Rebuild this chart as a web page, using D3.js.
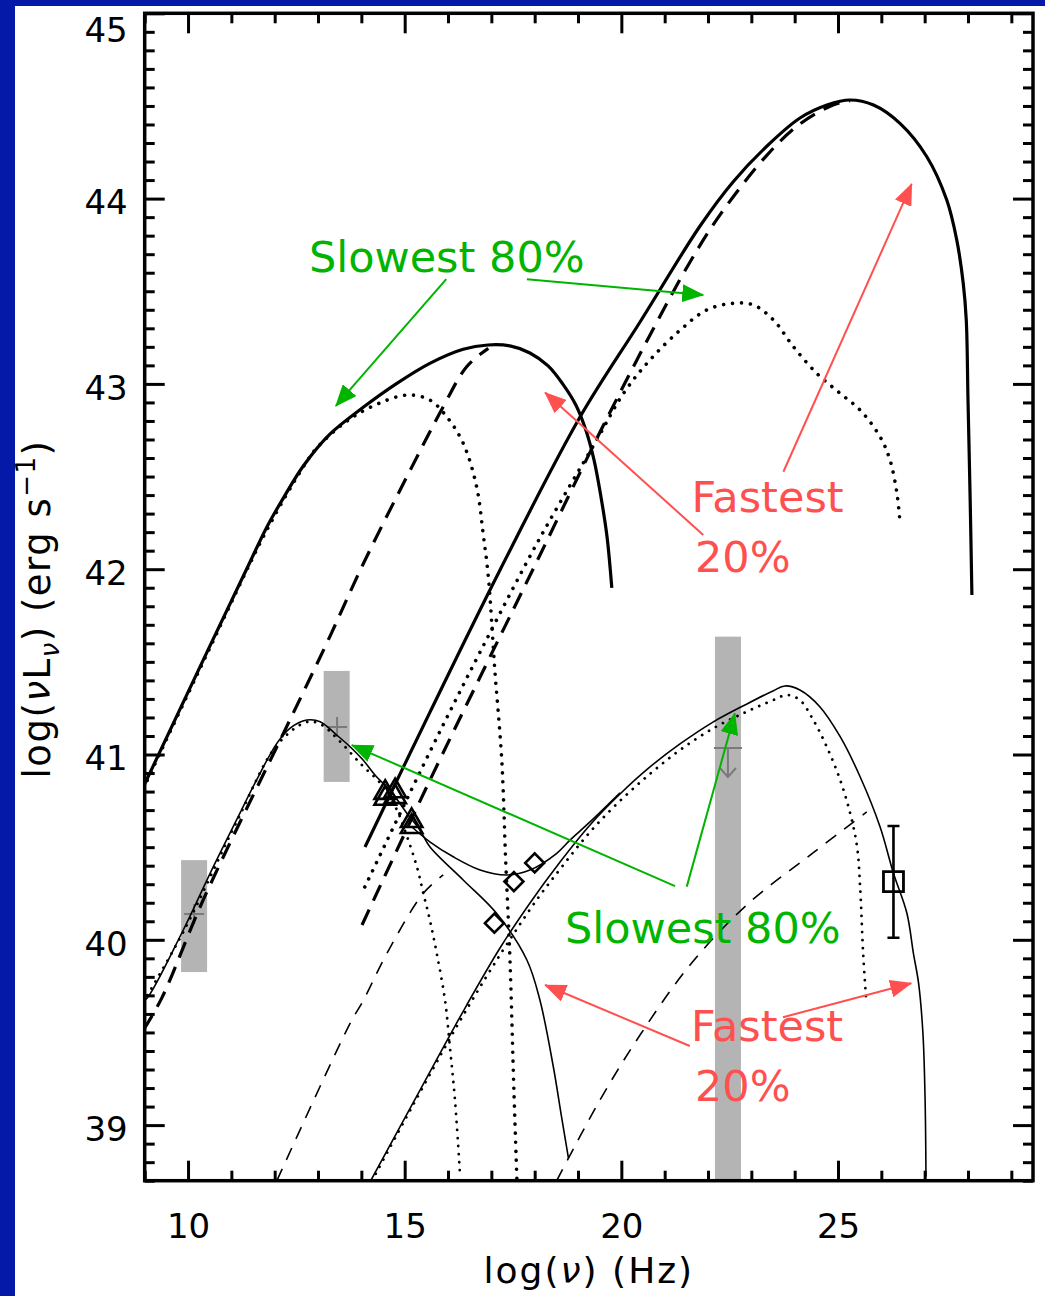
<!DOCTYPE html>
<html><head><meta charset="utf-8">
<script src="https://cdn.jsdelivr.net/npm/d3@7"></script>
<style>html,body{margin:0;padding:0;background:#0519a9;}svg{display:block}</style>
</head><body>
<svg id="c" width="1045" height="1296"></svg>
<script>
// ---------------- data ----------------
const xMajorTicks = [10, 15, 20, 25];
const yMajorTicks = [39, 40, 41, 42, 43, 44, 45];

// Upper model (thick lines)
const upperSyncTotal = [[8.97,40.826],[10.47,41.569],[11.43,42.039],[11.82,42.228],[12.24,42.400],[12.66,42.557],[13.28,42.730],[14.05,42.875],[14.82,43.003],[15.58,43.111],[16.35,43.187],[16.92,43.210],[17.43,43.205],[17.89,43.167],[18.31,43.097],[18.65,42.999],[18.95,42.886],[19.18,42.751],[19.37,42.589],[19.53,42.390],[19.67,42.174],[19.78,41.899]];
const upperSyncSlow = [[8.97,40.817],[10.47,41.559],[11.82,42.212],[12.66,42.552],[12.97,42.654],[13.58,42.784],[14.20,42.873],[15.05,42.940],[15.58,42.913],[15.97,42.823],[16.35,42.680],[16.66,42.445],[16.81,42.194],[16.93,41.960],[17.08,41.456],[17.24,40.970],[17.33,40.431],[17.43,39.891],[17.52,39.189],[17.59,38.704]];
const upperSyncFast = [[8.97,39.513],[9.39,39.684],[10.35,40.215],[12.35,41.186],[13.20,41.600],[14.05,42.032],[15.05,42.499],[15.89,42.877],[16.43,43.093],[16.93,43.192]];
const upperICTotal = [[14.084,40.501],[15.584,41.229],[17.200,41.996],[19.046,42.821],[20.431,43.334],[21.816,43.852],[22.577,44.090],[23.362,44.284],[24.123,44.435],[24.746,44.505],[25.277,44.532],[25.82,44.505],[26.43,44.406],[27.05,44.226],[27.51,43.992],[27.74,43.777],[27.89,43.543],[27.96,43.345],[28.00,42.913],[28.05,42.374],[28.09,41.861]];
const upperICFast = [[14.015,40.080],[15.584,40.862],[18.123,42.077],[19.508,42.740],[20.662,43.264],[21.585,43.658],[22.277,43.912],[23.362,44.235],[24.123,44.403],[24.885,44.505],[25.277,44.527]];
const upperICSlow = [[14.08,40.285],[15.58,41.014],[16.74,41.553],[18.12,42.168],[19.43,42.697],[20.05,42.949],[20.66,43.129],[21.36,43.291],[21.97,43.399],[22.58,43.435],[23.05,43.426],[23.51,43.345],[23.97,43.201],[24.51,43.057],[25.05,42.949],[25.51,42.859],[25.97,42.715],[26.20,42.589],[26.36,42.410],[26.42,42.283]];

// Lower model (thin lines)
const lowerSyncTotal = [[8.97,39.675],[9.05,39.684],[9.89,40.053],[10.51,40.359],[11.12,40.647],[11.58,40.862],[12.05,41.060],[12.35,41.141],[12.74,41.186],[13.05,41.177],[13.43,41.105],[13.74,41.042],[14.04,40.970],[14.35,40.880],[14.66,40.808],[15.05,40.683],[15.35,40.593],[15.58,40.502],[16.35,40.323],[17.12,40.143],[17.82,39.891],[18.12,39.675],[18.43,39.315],[18.62,39.045],[18.78,38.821]];
const lowerSum = [[15.16,40.610],[15.58,40.529],[16.12,40.448],[16.74,40.377],[17.35,40.350],[17.89,40.377],[18.51,40.467],[18.82,40.539],[19.277,40.636],[19.969,40.793]];
const lowerSyncSlow = [[8.97,39.664],[9.89,40.042],[11.12,40.636],[12.05,41.050],[12.74,41.175],[13.05,41.164],[13.43,41.089],[13.97,40.953],[14.51,40.826],[14.82,40.701],[15.05,40.560],[15.28,40.395],[15.43,40.251],[15.58,40.107],[15.74,39.927],[15.93,39.675],[16.05,39.405],[16.16,39.136],[16.28,38.722]];
const lowerSyncFast = [[12.05,38.700],[13.74,39.549],[14.05,39.675],[14.59,39.927],[15.43,40.251],[15.89,40.350]];
const lowerICTotal = [[14.216,38.700],[15.354,39.189],[16.431,39.648],[17.200,39.956],[17.892,40.199],[18.585,40.420],[19.277,40.620],[19.969,40.787],[20.661,40.933],[21.353,41.057],[22.115,41.175],[22.899,41.273],[23.499,41.343],[23.776,41.370],[24.12,41.348],[24.58,41.258],[25.05,41.096],[25.51,40.880],[25.97,40.610],[26.28,40.359],[26.59,40.143],[26.74,39.927],[26.86,39.765],[26.96,39.495],[27.01,39.136],[27.03,38.722]];
const lowerICSlow = [[14.246,38.700],[16.461,39.637],[17.915,40.172],[18.608,40.388],[19.300,40.588],[19.992,40.755],[20.684,40.900],[21.353,41.024],[22.12,41.141],[22.89,41.231],[23.51,41.294],[23.82,41.321],[24.12,41.294],[24.43,41.186],[24.74,41.042],[25.05,40.862],[25.28,40.683],[25.44,40.502],[25.51,40.287],[25.58,39.927],[25.65,39.675]];
const lowerICFast = [[18.508,38.700],[19.508,39.136],[20.431,39.486],[21.585,39.864],[22.893,40.188],[24.423,40.469],[25.663,40.690]];

// Observational data
const grayBars = [{x:10.14, lo:39.826, hi:40.430}, {x:13.43, lo:40.852, hi:41.451}, {x:22.46, lo:38.700, hi:41.636}];
const grayPlus = [[10.14,40.139],[13.44,41.148]];
const grayUpperLimit = [[22.46,41.035]];
const triangles = [[14.55,40.762],[14.55,40.794],[14.78,40.771],[14.78,40.803],[15.16,40.610],[15.16,40.642]];
const diamonds = [[17.07,40.090],[17.52,40.314],[18.00,40.415]];
const squares = [{x:26.28, y:40.314, lo:40.011, hi:40.614}];

// Annotations
const greenArrows = [{from:[15.96,43.565], to:[13.41,42.881]}, {from:[17.82,43.565], to:[21.89,43.480]}, {from:[21.24,40.290], to:[13.78,41.051]}, {from:[21.51,40.287], to:[22.62,41.222]}];
const redArrows = [{from:[23.74,42.526], to:[26.70,44.079]}, {from:[21.89,42.185], to:[18.24,42.953]}, {from:[21.58,39.427], to:[18.24,39.756]}, {from:[23.73,39.582], to:[26.69,39.766]}];
const greenTexts = [{t:"Slowest 80%", x:12.79, y:43.602}, {t:"Slowest 80%", x:18.70, y:39.983}];
const redTexts = [{t:"Fastest", x:21.62, y:42.310}, {t:"20%", x:21.70, y:41.987}, {t:"Fastest", x:21.61, y:39.454}, {t:"20%", x:21.70, y:39.130}];

// ---------------- drawing ----------------
const W = 1045, H = 1296;
const svg = d3.select('#c');
svg.append('rect').attr('width', W).attr('height', H).attr('fill', '#0519a9');
svg.append('rect').attr('x', 15).attr('y', 6).attr('width', W - 15).attr('height', H - 6).attr('fill', '#fff');

const x = d3.scaleLinear().domain([9, 29.5]).range([144.7, 1033]);
const y = d3.scaleLinear().domain([38.7, 45]).range([1180.7, 13.3]);
const [x0, x1] = x.domain(), [y0, y1] = y.domain();

const defs = svg.append('defs');
defs.append('clipPath').attr('id', 'clip').append('rect')
  .attr('x', x(x0)).attr('y', y(y1)).attr('width', x(x1) - x(x0)).attr('height', y(y0) - y(y1));
function mk(id, col) {
  defs.append('marker').attr('id', id).attr('viewBox', '0 0 22 18').attr('refX', 21).attr('refY', 9)
    .attr('markerWidth', 22).attr('markerHeight', 18).attr('markerUnits', 'userSpaceOnUse').attr('orient', 'auto')
    .append('path').attr('d', 'M0,0L22,9L0,18Z').attr('fill', col);
}
const GREEN = '#00b400', RED = '#ff5050';
mk('ag', GREEN); mk('ar', RED);

const plot = svg.append('g').attr('clip-path', 'url(#clip)');

// gray bars
plot.selectAll('rect.gb').data(grayBars).join('rect').attr('class', 'gb')
  .attr('x', d => x(d.x) - 13).attr('width', 26)
  .attr('y', d => y(d.hi)).attr('height', d => y(d.lo) - y(d.hi)).attr('fill', '#b4b4b4');
plot.selectAll('path.gp').data(grayPlus).join('path').attr('class', 'gp')
  .attr('d', d => `M${x(d[0]) - 10},${y(d[1])}h20M${x(d[0])},${y(d[1]) - 10}v20`)
  .attr('stroke', '#7a7a7a').attr('stroke-width', 2).attr('fill', 'none');
plot.selectAll('path.gu').data(grayUpperLimit).join('path').attr('class', 'gu')
  .attr('d', d => { const cx = x(d[0]), cy = y(d[1]); return `M${cx - 14},${cy}h28M${cx},${cy}v29M${cx - 8},${cy + 20}L${cx},${cy + 29}L${cx + 8},${cy + 20}`; })
  .attr('stroke', '#7a7a7a').attr('stroke-width', 2).attr('fill', 'none');

const line = d3.line().x(d => x(d[0])).y(d => y(d[1])).curve(d3.curveCatmullRom.alpha(0.5));
function curve(data, w, dash, cap) {
  plot.append('path').datum(data).attr('d', line).attr('fill', 'none').attr('stroke', '#000')
    .attr('stroke-width', w).attr('stroke-dasharray', dash || null).attr('stroke-linecap', cap || 'butt')
    .attr('stroke-linejoin', 'round');
}
const THICK = 3.2, THIN = 1.6;
const DASH_THICK = '17 10', DASH_THIN = '13 10', DOT_THICK = '0.01 9', DOT_THIN = '0.01 8';

curve(upperSyncTotal, THICK);
curve(upperSyncSlow, 3.6, DOT_THICK, 'round');
curve(upperSyncFast, THICK, DASH_THICK);
curve(upperICTotal, THICK);
curve(upperICFast, THICK, DASH_THICK);
curve(upperICSlow, 3.6, DOT_THICK, 'round');

curve(lowerSyncTotal, THIN);
curve(lowerSum, THIN);
curve(lowerSyncSlow, 2.8, DOT_THIN, 'round');
curve(lowerSyncFast, THIN, DASH_THIN);
curve(lowerICTotal, THIN);
curve(lowerICSlow, 2.8, DOT_THIN, 'round');
curve(lowerICFast, THIN, DASH_THIN);

// data symbols
const tri = d3.symbol().type(d3.symbolTriangle).size(200);
plot.selectAll('path.tri').data(triangles).join('path').attr('class', 'tri')
  .attr('transform', d => `translate(${x(d[0])},${y(d[1])})`).attr('d', tri)
  .attr('fill', 'none').attr('stroke', '#000').attr('stroke-width', 2.6);
const dia = d3.symbol().type(d3.symbolSquare).size(180);
plot.selectAll('path.dia').data(diamonds).join('path').attr('class', 'dia')
  .attr('transform', d => `translate(${x(d[0])},${y(d[1])}) rotate(45)`).attr('d', dia)
  .attr('fill', 'none').attr('stroke', '#000').attr('stroke-width', 2.6);
plot.selectAll('path.eb').data(squares).join('path').attr('class', 'eb')
  .attr('d', d => `M${x(d.x)},${y(d.lo)}V${y(d.hi)}M${x(d.x) - 6},${y(d.lo)}h12M${x(d.x) - 6},${y(d.hi)}h12`)
  .attr('stroke', '#000').attr('stroke-width', 2.6).attr('fill', 'none');
const sq = d3.symbol().type(d3.symbolSquare).size(400);
plot.selectAll('path.sq').data(squares).join('path').attr('class', 'sq')
  .attr('transform', d => `translate(${x(d.x)},${y(d.y)})`).attr('d', sq)
  .attr('fill', 'none').attr('stroke', '#000').attr('stroke-width', 2.8);

// annotations
function arrows(data, col, mid) {
  svg.append('g').selectAll('line').data(data).join('line')
    .attr('x1', d => x(d.from[0])).attr('y1', d => y(d.from[1]))
    .attr('x2', d => x(d.to[0])).attr('y2', d => y(d.to[1]))
    .attr('stroke', col).attr('stroke-width', 2).attr('marker-end', `url(#${mid})`);
}
arrows(greenArrows, GREEN, 'ag');
arrows(redArrows, RED, 'ar');
function texts(data, col) {
  svg.append('g').selectAll('text').data(data).join('text')
    .attr('x', d => x(d.x)).attr('y', d => y(d.y)).text(d => d.t)
    .attr('fill', col).attr('font-family', 'DejaVu Sans, sans-serif').attr('font-size', 43);
}
texts(greenTexts, GREEN);
texts(redTexts, RED);

// axes
const FONT = 'DejaVu Sans, sans-serif';
const xMinor = d3.range(Math.ceil(x0), Math.floor(x1) + 1).filter(v => !xMajorTicks.includes(v));
const yMinor = d3.range(Math.round(y0 * 10), Math.round(y1 * 10) + 1).map(v => v / 10).filter(v => Math.abs(v - Math.round(v)) > 1e-6);
function styleAxis(g) {
  g.select('.domain').remove();
  g.selectAll('line').attr('stroke', '#000').attr('stroke-width', 3);
  g.selectAll('text').attr('fill', '#000').attr('font-family', FONT).attr('font-size', 34);
}
const B = y(y0), T = y(y1), L = x(x0), R = x(x1);
svg.append('g').attr('transform', `translate(0,${B})`).call(d3.axisBottom(x).tickValues(xMinor).tickSize(-10).tickFormat('')).call(styleAxis);
svg.append('g').attr('transform', `translate(0,${B})`).call(d3.axisBottom(x).tickValues(xMajorTicks).tickSize(-20).tickPadding(33).tickFormat(d3.format('d'))).call(styleAxis);
svg.append('g').attr('transform', `translate(0,${T})`).call(d3.axisTop(x).tickValues(xMinor).tickSize(-10).tickFormat('')).call(styleAxis);
svg.append('g').attr('transform', `translate(0,${T})`).call(d3.axisTop(x).tickValues(xMajorTicks).tickSize(-20).tickFormat('')).call(styleAxis);
svg.append('g').attr('transform', `translate(${L},0)`).call(d3.axisLeft(y).tickValues(yMinor).tickSize(-10).tickFormat('')).call(styleAxis);
const yl = svg.append('g').attr('transform', `translate(${L},0)`).call(d3.axisLeft(y).tickValues(yMajorTicks).tickSize(-20).tickPadding(17).tickFormat(d3.format('d'))).call(styleAxis);
yl.selectAll('text').attr('dy', '0.45em').attr('y', d => Math.max(0, T + 13 - y(d)));
svg.append('g').attr('transform', `translate(${R},0)`).call(d3.axisRight(y).tickValues(yMinor).tickSize(-10).tickFormat('')).call(styleAxis);
svg.append('g').attr('transform', `translate(${R},0)`).call(d3.axisRight(y).tickValues(yMajorTicks).tickSize(-20).tickFormat('')).call(styleAxis);

// frame
svg.append('rect').attr('x', L).attr('y', T).attr('width', R - L).attr('height', B - T)
  .attr('fill', 'none').attr('stroke', '#000').attr('stroke-width', 3.5);

// axis titles
const xt = svg.append('text').attr('x', (L + R) / 2).attr('y', 1283).attr('text-anchor', 'middle')
  .attr('font-family', FONT).attr('font-size', 36).attr('letter-spacing', 2).attr('fill', '#000');
xt.append('tspan').text('log(');
xt.append('tspan').attr('font-style', 'italic').text('ν');
xt.append('tspan').text(') (Hz)');

const yt = svg.append('text').attr('transform', `translate(50,${(T + B) / 2 + 12}) rotate(-90)`).attr('text-anchor', 'middle')
  .attr('font-family', FONT).attr('font-size', 37).attr('letter-spacing', 1.5).attr('fill', '#000');
yt.append('tspan').text('log(');
yt.append('tspan').attr('font-style', 'italic').text('ν');
yt.append('tspan').text('L');
yt.append('tspan').attr('font-style', 'italic').attr('font-size', 26).attr('dy', 9).text('ν');
yt.append('tspan').attr('dy', -9).text(') (erg s');
yt.append('tspan').attr('font-size', 26).attr('dy', -15).text('−1');
yt.append('tspan').attr('dy', 15).text(')');
</script>
</body></html>
